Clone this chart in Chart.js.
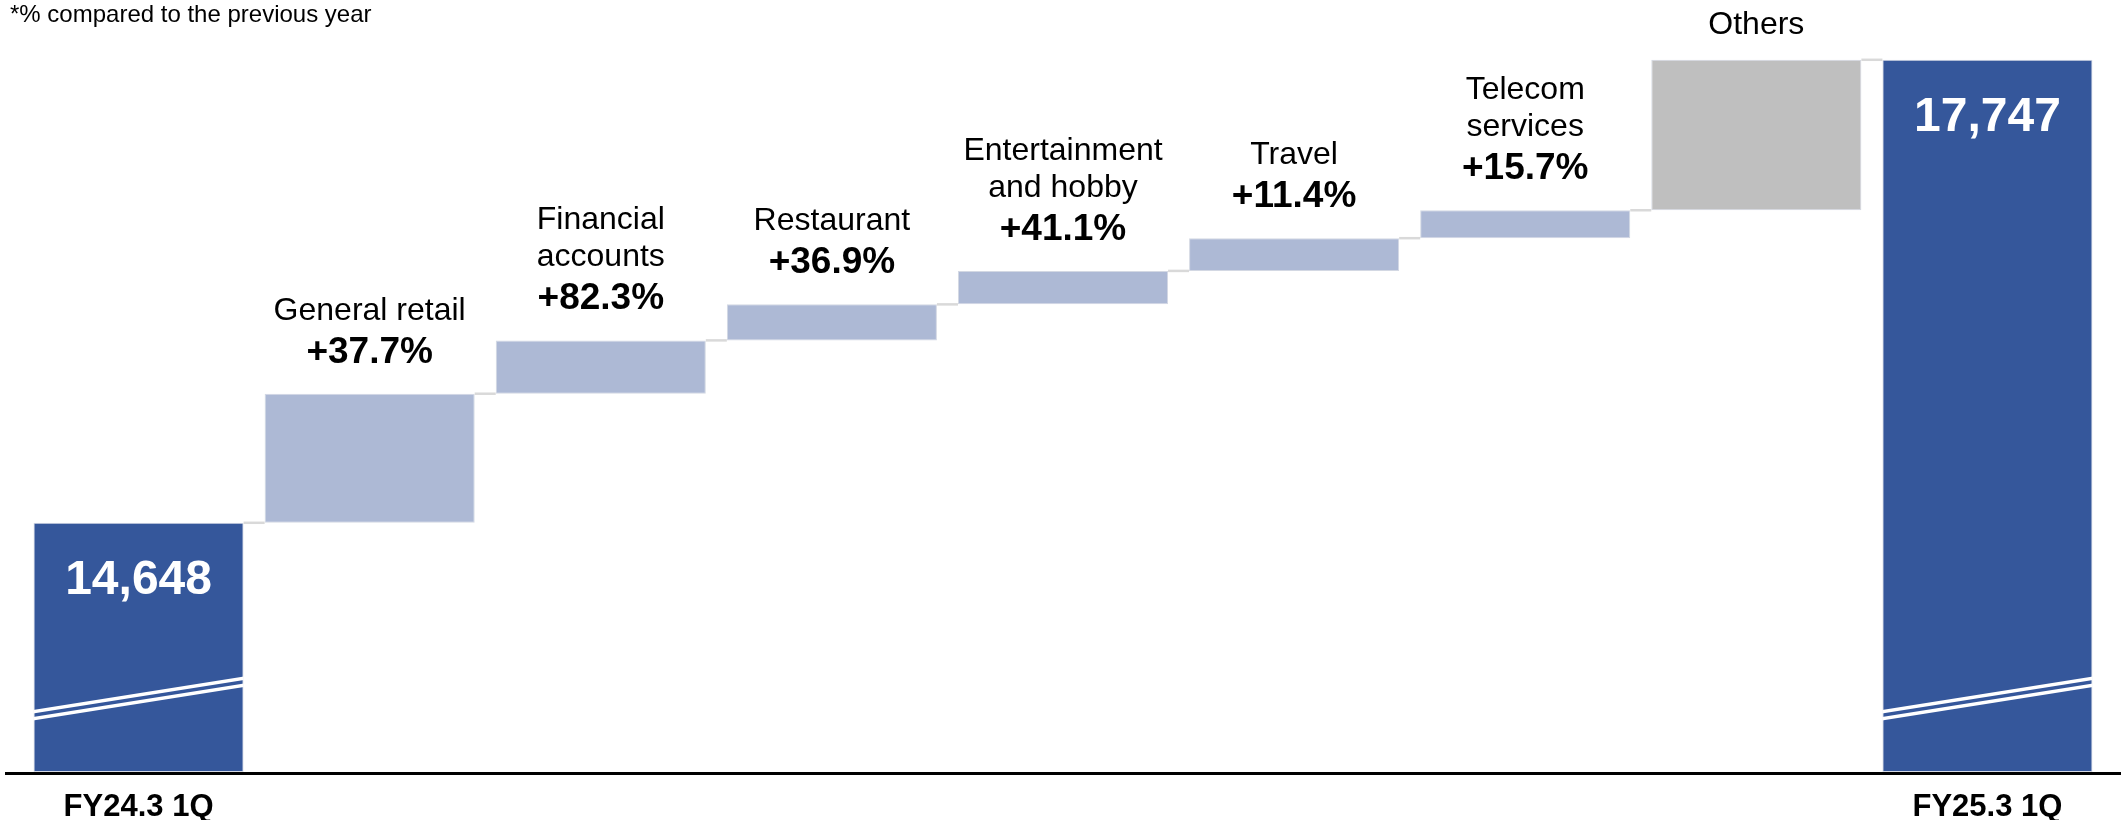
<!DOCTYPE html>
<html lang="en">
<head>
<meta charset="UTF-8">
<title>Transaction volume by category</title>
<script src="https://cdn.jsdelivr.net/npm/chart.js@4.4.1/dist/chart.umd.min.js"></script>
<style>
    html, body { margin: 0; padding: 0; background: #fff; }
    #wrap { position: relative; width: 2121px; height: 820px; }
</style>
</head>
<body>
<div id="wrap"><canvas id="waterfall"></canvas></div>
<script>
// Totals at both ends of the bridge
const startLabel = 'FY24.3 1Q';
const endLabel = 'FY25.3 1Q';
const startTotal = 14648;
const endTotal = 17747;

// Contribution of each category (one text line per entry)
const categories = [
    ['General retail'],
    ['Financial', 'accounts'],
    ['Restaurant'],
    ['Entertainment', 'and hobby'],
    ['Travel'],
    ['Telecom', 'services'],
    ['Others']
];
const increments = [864, 357, 241, 224, 219, 187, 1007];
const growthLabels = ['+37.7%', '+82.3%', '+36.9%', '+41.1%', '+11.4%', '+15.7%', ''];

// Value axis is cut below this point (break marks on the total bars)
const axisMin = 12980;
const axisMax = 18000;

const note = '*% compared to the previous year';

const FONT = "'Liberation Sans', Arial, sans-serif";
const COLOR_TOTAL = '#35579b';
const COLOR_UP = '#adb9d5';
const COLOR_OTHER = '#bfbfbf';

// Build floating bars [from, to] with a running total
const labels = [startLabel];
const barData = [[axisMin, startTotal]];
const barColors = [COLOR_TOTAL];
let running = startTotal;
increments.forEach((inc, i) => {
    labels.push(categories[i].join(' '));
    barData.push([running, running + inc]);
    barColors.push(growthLabels[i] ? COLOR_UP : COLOR_OTHER);
    running += inc;
});
labels.push(endLabel);
barData.push([axisMin, endTotal]);
barColors.push(COLOR_TOTAL);

const lastIndex = barData.length - 1;

// Connectors, axis line, break marks and all the text
const waterfallDecor = {
    id: 'waterfallDecor',
    afterDatasetsDraw(chart) {
        const ctx = chart.ctx;
        const bars = chart.getDatasetMeta(0).data;
        const area = chart.chartArea;

        ctx.save();

        // Step connectors between neighbouring bars
        ctx.strokeStyle = '#d9d9d9';
        ctx.lineWidth = 2.5;
        for (let i = 0; i < lastIndex; i++) {
            const a = bars[i];
            const b = bars[i + 1];
            const top = Math.min(a.y, a.base);
            ctx.beginPath();
            ctx.moveTo(a.x + a.width / 2, top);
            ctx.lineTo(b.x - b.width / 2, top);
            ctx.stroke();
        }

        // Break marks on the two totals (axis does not start at zero)
        [0, lastIndex].forEach(i => {
            const bar = bars[i];
            const left = bar.x - bar.width / 2;
            const right = bar.x + bar.width / 2;
            ctx.save();
            ctx.beginPath();
            ctx.rect(left, area.top, bar.width, area.bottom - area.top);
            ctx.clip();
            ctx.strokeStyle = '#ffffff';
            ctx.lineWidth = 3.5;
            [60, 53].forEach(off => {
                ctx.beginPath();
                ctx.moveTo(left - 2, bar.base - off);
                ctx.lineTo(right + 2, bar.base - off - 34);
                ctx.stroke();
            });
            ctx.restore();
        });

        // Baseline
        ctx.strokeStyle = '#000000';
        ctx.lineWidth = 3;
        ctx.beginPath();
        ctx.moveTo(5, area.bottom + 1.5);
        ctx.lineTo(chart.width, area.bottom + 1.5);
        ctx.stroke();

        ctx.textAlign = 'center';
        ctx.textBaseline = 'alphabetic';

        // Totals: value inside the bar, period label below the axis
        [0, lastIndex].forEach(i => {
            const bar = bars[i];
            const value = i === 0 ? startTotal : endTotal;
            ctx.fillStyle = '#ffffff';
            ctx.font = `bold 48px ${FONT}`;
            ctx.fillText(value.toLocaleString('en-US'), bar.x, bar.y + 71);
            ctx.fillStyle = '#000000';
            ctx.font = `bold 31px ${FONT}`;
            ctx.fillText(labels[i], bar.x, 816);
        });

        // Category names and growth rates above each step
        ctx.fillStyle = '#000000';
        categories.forEach((lines, k) => {
            const bar = bars[k + 1];
            const top = Math.min(bar.y, bar.base);
            let y;
            if (growthLabels[k]) {
                ctx.font = `bold 37px ${FONT}`;
                ctx.fillText(growthLabels[k], bar.x, top - 31);
                y = top - 74;
            } else {
                y = top - 26;
            }
            ctx.font = `32px ${FONT}`;
            for (let j = lines.length - 1; j >= 0; j--) {
                ctx.fillText(lines[j], bar.x, y);
                y -= 37;
            }
        });

        // Footnote
        ctx.textAlign = 'left';
        ctx.font = `24px ${FONT}`;
        ctx.fillText(note, 10, 22);

        ctx.restore();
    }
};

const ctx = document.getElementById('waterfall').getContext('2d');
new Chart(ctx, {
    type: 'bar',
    data: {
        labels: labels,
        datasets: [{
            data: barData,
            backgroundColor: barColors,
            borderColor: '#d3d8e3',
            borderWidth: 1,
            borderSkipped: false,
            barPercentage: 0.909,
            categoryPercentage: 1
        }]
    },
    options: {
        responsive: true,
        maintainAspectRatio: false,
        animation: false,
        layout: {
            padding: { top: 22, bottom: 48, left: 23, right: 18 }
        },
        plugins: {
            legend: { display: false },
            tooltip: { enabled: false }
        },
        scales: {
            x: { display: false },
            y: { display: false, min: axisMin, max: axisMax }
        }
    },
    plugins: [waterfallDecor]
});
</script>
</body>
</html>
